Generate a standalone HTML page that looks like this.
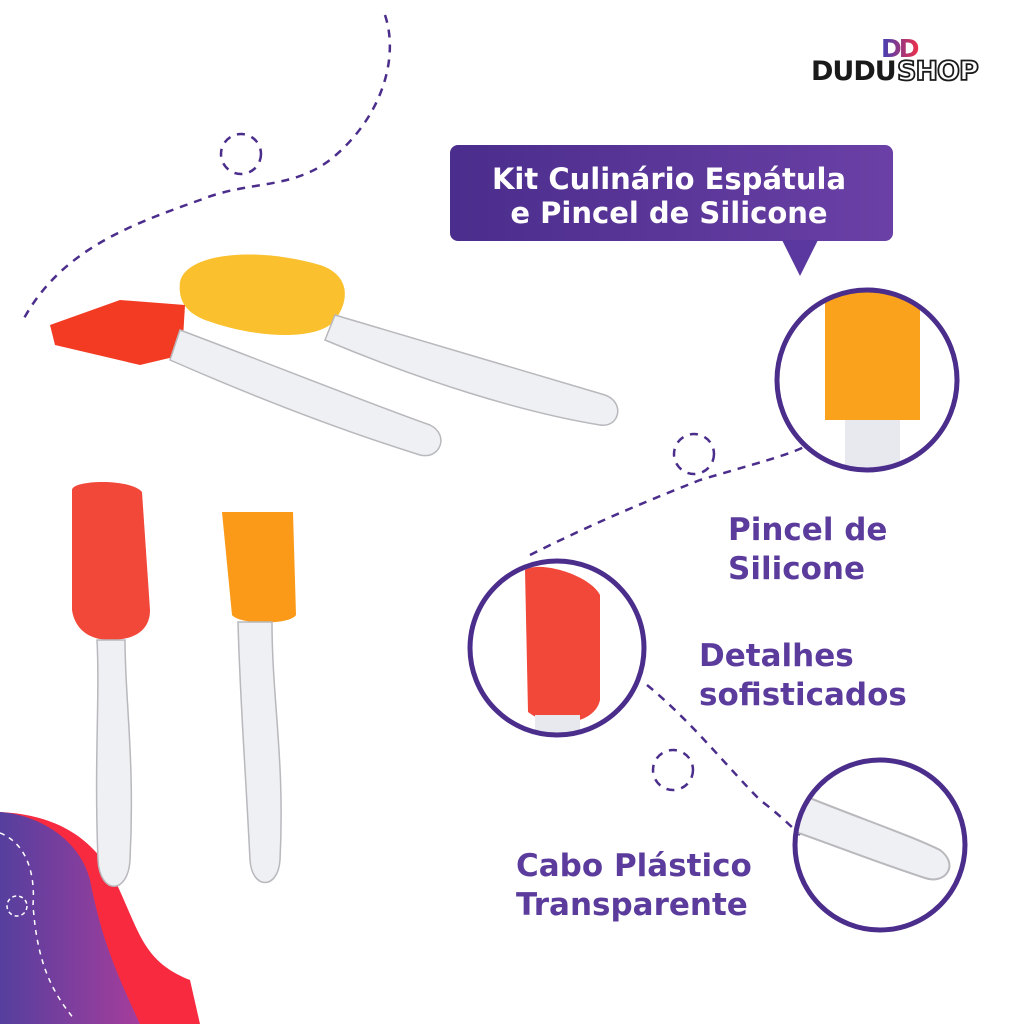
<!DOCTYPE html>
<html><head><meta charset="utf-8"><style>
html,body{margin:0;padding:0;background:#fff;}
svg{display:block}
text{font-family:"DejaVu Sans","Liberation Sans",sans-serif;font-weight:bold}
</style></head><body>
<svg width="1024" height="1024" viewBox="0 0 1024 1024" xmlns="http://www.w3.org/2000/svg">
<defs>
<linearGradient id="bn" x1="0" x2="1"><stop offset="0" stop-color="#4a2d8c"/><stop offset="1" stop-color="#6b40a6"/></linearGradient>
<linearGradient id="bl" x1="0" x2="1"><stop offset="0" stop-color="#553f9e"/><stop offset="1" stop-color="#a53d9c"/></linearGradient>
<linearGradient id="lg" x1="0" x2="1"><stop offset="0" stop-color="#3d3fb8"/><stop offset="1" stop-color="#f0304a"/></linearGradient>
</defs>
<rect width="1024" height="1024" fill="#fff"/>
<path d="M0,812 C60,815 90,840 110,870 C140,930 140,960 190,980 L200,1024 L0,1024Z" fill="#f72a40"/>
<path d="M0,812 C40,815 80,840 90,880 C100,930 110,960 140,1024 L0,1024Z" fill="url(#bl)"/>
<path d="M0,833 C30,845 35,880 33,905 C37,960 50,990 75,1020" fill="none" stroke="#fff" stroke-width="1.5" stroke-dasharray="5,5"/>
<circle cx="17" cy="906" r="10" fill="none" stroke="#fff" stroke-width="1.5" stroke-dasharray="4,3"/>
<g fill="none" stroke="#4b2d8c" stroke-width="2.5" stroke-dasharray="8,7">
<path d="M385,15 C400,60 380,120 330,160 C290,190 250,180 200,200 C130,225 60,250 22,322"/>
<circle cx="241" cy="154" r="20"/>
<path d="M530,555 C600,520 650,500 700,480 C750,465 790,455 808,445"/>
<circle cx="694" cy="454" r="20"/>
<path d="M647,685 C690,720 730,770 760,800 C780,815 795,830 800,835"/>
<circle cx="673" cy="770" r="20"/>
</g>
<text x="811" y="80" font-size="27" fill="#1a1a1a" letter-spacing="-1">DUDU</text>
<text x="897" y="80" font-size="27" fill="#fff" stroke="#1a1a1a" stroke-width="1.8" font-weight="normal" letter-spacing="-1">SHOP</text>
<text x="881" y="57" font-size="25" fill="url(#lg)" letter-spacing="-3">DD</text>
<rect x="450" y="145" width="443" height="96" rx="8" fill="url(#bn)"/>
<path d="M782,240 L818,240 L800,276Z" fill="#5a38a0"/>
<text x="669" y="189" font-size="29" fill="#fff" text-anchor="middle">Kit Culinário Espátula</text>
<text x="669" y="223" font-size="29" fill="#fff" text-anchor="middle">e Pincel de Silicone</text>
<g>
<path d="M180,282 C185,255 250,245 320,265 C350,275 350,300 335,320 C320,340 260,340 205,320 C185,312 178,300 180,282Z" fill="#fbc02d"/>
<path d="M335,315 C420,340 520,370 605,395 C625,402 620,428 600,425 C520,412 420,380 325,340Z" fill="#eef0f3" stroke="#b8b8bd" stroke-width="1.5"/>
<path d="M50,325 L120,300 L185,305 L182,355 L140,365 L55,345Z" fill="#f23b22"/>
<path d="M180,330 C260,360 360,400 430,425 C450,435 440,460 420,455 C340,430 250,395 170,360Z" fill="#eef0f3" stroke="#b8b8bd" stroke-width="1.5"/>
</g>
<path d="M72,490 C72,480 130,478 142,492 L150,610 C150,630 135,640 110,640 C90,640 75,630 72,610Z" fill="#f2483a"/>
<path d="M97,640 L125,640 C125,700 135,760 130,860 C128,895 100,895 98,860 C94,760 100,700 97,640Z" fill="#eef0f3" stroke="#b8b8bd" stroke-width="1.5"/>
<path d="M222,512 L293,512 L296,615 C290,625 240,625 232,615Z" fill="#fb9a18"/>
<path d="M238,622 L272,622 C272,700 285,760 280,860 C278,890 252,890 250,860 C245,760 240,700 238,622Z" fill="#eef0f3" stroke="#b8b8bd" stroke-width="1.5"/>
<clipPath id="c1"><circle cx="867" cy="380" r="88"/></clipPath>
<clipPath id="c2"><circle cx="557" cy="648" r="85"/></clipPath>
<clipPath id="c3"><circle cx="880" cy="845" r="83"/></clipPath>
<g clip-path="url(#c1)"><rect x="825" y="280" width="95" height="140" fill="#fba21c"/><rect x="845" y="420" width="55" height="60" fill="#e8e9ee"/></g>
<g clip-path="url(#c2)"><path d="M525,570 C540,560 590,575 600,595 L600,700 C595,725 550,730 528,712Z" fill="#f2483a"/><rect x="535" y="715" width="45" height="30" fill="#e8e9ee"/></g>
<g clip-path="url(#c3)"><path d="M790,790 C850,815 910,835 940,850 C960,865 945,885 925,878 C870,860 820,840 790,830Z" fill="#eef0f3" stroke="#b8b8bd" stroke-width="2"/></g>
<g fill="none" stroke="#4b2d8c" stroke-width="5">
<circle cx="867" cy="380" r="90"/><circle cx="557" cy="648" r="87"/><circle cx="880" cy="845" r="85"/>
</g>
<g fill="#5b3c9d" font-size="31">
<text x="728" y="540">Pincel de</text>
<text x="728" y="579">Silicone</text>
<text x="699" y="666">Detalhes</text>
<text x="699" y="705">sofisticados</text>
<text x="516" y="876">Cabo Plástico</text>
<text x="516" y="915">Transparente</text>
</g>
</svg>
</body></html>
